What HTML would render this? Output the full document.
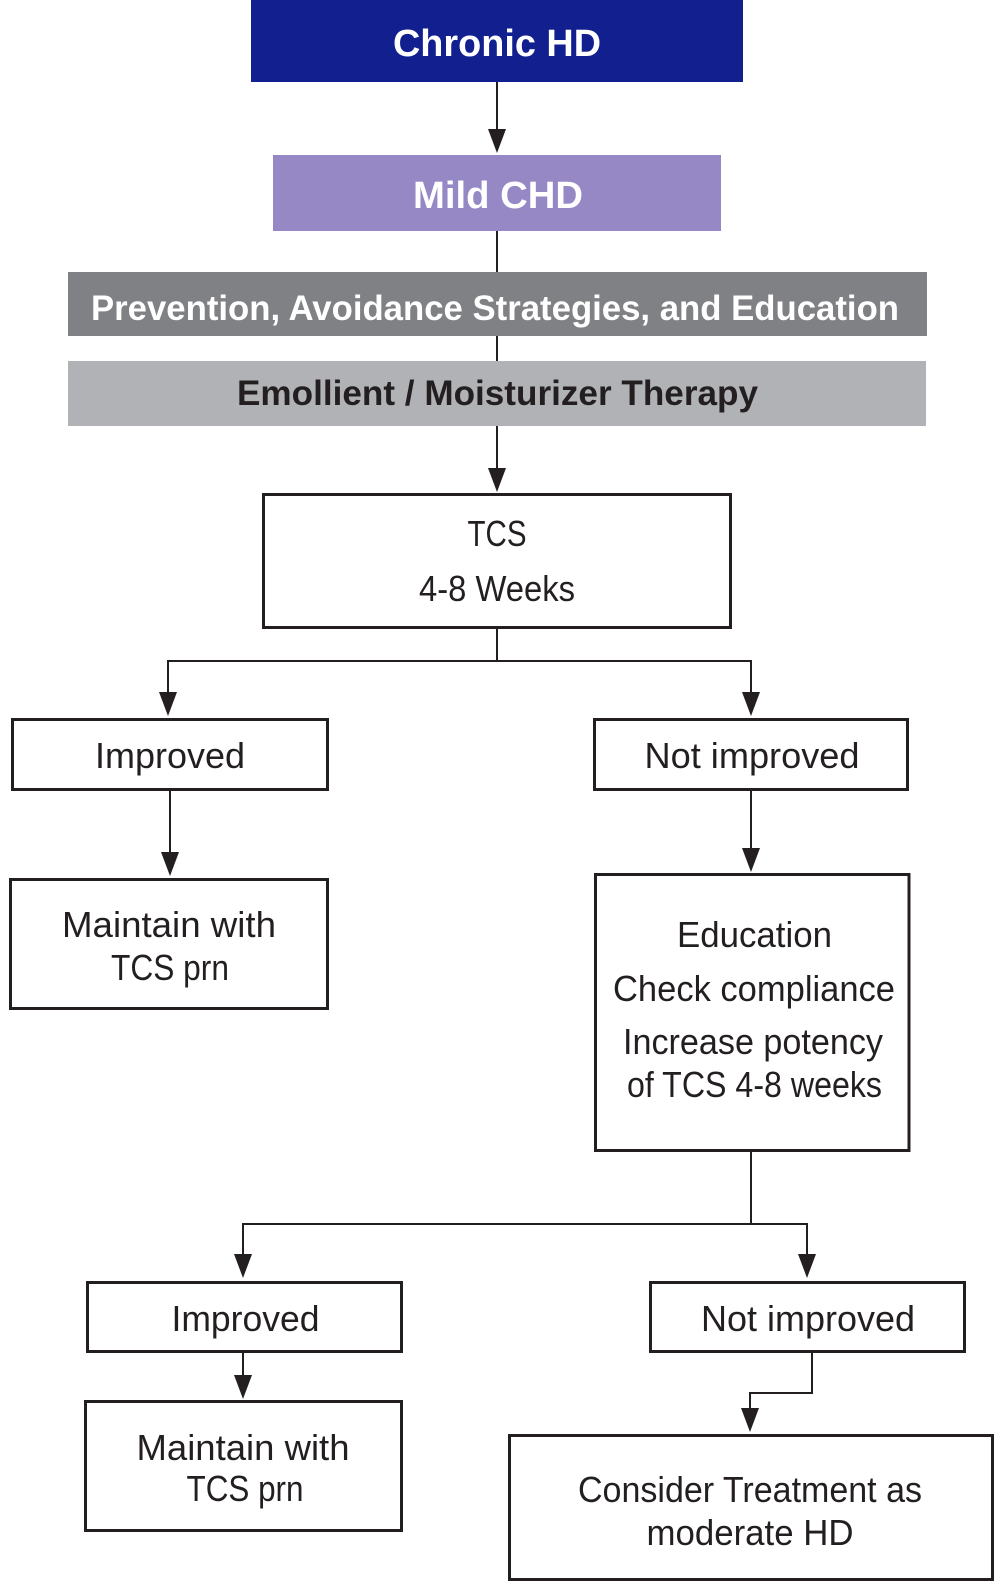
<!DOCTYPE html>
<html>
<head>
<meta charset="utf-8">
<style>
  html, body { margin:0; padding:0; background:#ffffff; }
  body { width:1004px; height:1591px; overflow:hidden; }
  svg { display:block; }
  .b { font-family:"Liberation Sans", sans-serif; font-weight:bold; }
  .r { font-family:"Liberation Sans", sans-serif; font-weight:normal; fill:#231f20; font-size:36px; }
  .box { fill:#ffffff; stroke:#231f20; stroke-width:3; }
  .ln { stroke:#231f20; stroke-width:2; fill:none; }
  .ah { fill:#231f20; }
</style>
</head>
<body>
<svg width="1004" height="1591" viewBox="0 0 1004 1591" xmlns="http://www.w3.org/2000/svg">
  <!-- Top colored bars -->
  <rect x="251" y="0" width="492" height="82" fill="#121f8f"/>
  <text class="b" x="497" y="56" font-size="38" fill="#ffffff" text-anchor="middle" textLength="208" lengthAdjust="spacingAndGlyphs">Chronic HD</text>

  <rect x="273" y="155" width="448" height="76" fill="#9688c5"/>
  <text class="b" x="498" y="208" font-size="38" fill="#ffffff" text-anchor="middle" textLength="170" lengthAdjust="spacingAndGlyphs">Mild CHD</text>

  <rect x="68" y="272" width="859" height="64" fill="#808185"/>
  <text class="b" x="91" y="320" font-size="35" fill="#ffffff" textLength="808" lengthAdjust="spacingAndGlyphs">Prevention, Avoidance Strategies, and Education</text>

  <rect x="68" y="361" width="858" height="65" fill="#b1b2b5"/>
  <text class="b" x="237" y="405" font-size="35" fill="#231f20" textLength="521" lengthAdjust="spacingAndGlyphs">Emollient / Moisturizer Therapy</text>

  <!-- Connectors top -->
  <line class="ln" x1="497" y1="82" x2="497" y2="132"/>
  <polygon class="ah" points="497,153 488,129 506,129"/>
  <line class="ln" x1="497" y1="231" x2="497" y2="272"/>
  <line class="ln" x1="497" y1="336" x2="497" y2="361"/>
  <line class="ln" x1="497" y1="426" x2="497" y2="470"/>
  <polygon class="ah" points="497,492 488,468 506,468"/>

  <!-- TCS box -->
  <rect class="box" x="263.5" y="494.5" width="467" height="133"/>
  <text class="r" x="497" y="546" text-anchor="middle" textLength="59" lengthAdjust="spacingAndGlyphs">TCS</text>
  <text class="r" x="497" y="601" text-anchor="middle" textLength="156" lengthAdjust="spacingAndGlyphs">4-8 Weeks</text>

  <!-- Split 1 -->
  <line class="ln" x1="497" y1="629" x2="497" y2="661"/>
  <line class="ln" x1="167" y1="661" x2="752" y2="661"/>
  <line class="ln" x1="168" y1="660" x2="168" y2="695"/>
  <polygon class="ah" points="168,716 159,692 177,692"/>
  <line class="ln" x1="751" y1="660" x2="751" y2="695"/>
  <polygon class="ah" points="751,716 742,692 760,692"/>

  <!-- Improved 1 -->
  <rect class="box" x="12.5" y="719.5" width="315" height="70"/>
  <text class="r" x="170" y="768" text-anchor="middle" textLength="150" lengthAdjust="spacingAndGlyphs">Improved</text>
  <line class="ln" x1="170" y1="791" x2="170" y2="855"/>
  <polygon class="ah" points="170,876 161,852 179,852"/>

  <!-- Maintain 1 -->
  <rect class="box" x="10.5" y="879.5" width="317" height="129"/>
  <text class="r" x="169" y="937" text-anchor="middle" textLength="214" lengthAdjust="spacingAndGlyphs">Maintain with</text>
  <text class="r" x="170" y="980" text-anchor="middle" textLength="118" lengthAdjust="spacingAndGlyphs">TCS prn</text>

  <!-- Not improved 1 -->
  <rect class="box" x="594.5" y="719.5" width="313" height="70"/>
  <text class="r" x="752" y="768" text-anchor="middle" textLength="215" lengthAdjust="spacingAndGlyphs">Not improved</text>
  <line class="ln" x1="751" y1="791" x2="751" y2="851"/>
  <polygon class="ah" points="751,872 742,848 760,848"/>

  <!-- Education box -->
  <rect class="box" x="595.5" y="874.5" width="313.5" height="276"/>
  <text class="r" x="754.5" y="947" text-anchor="middle" textLength="155" lengthAdjust="spacingAndGlyphs">Education</text>
  <text class="r" x="754" y="1001" text-anchor="middle" textLength="282" lengthAdjust="spacingAndGlyphs">Check compliance</text>
  <text class="r" x="753" y="1054" text-anchor="middle" textLength="260" lengthAdjust="spacingAndGlyphs">Increase potency</text>
  <text class="r" x="754.5" y="1097" text-anchor="middle" textLength="255" lengthAdjust="spacingAndGlyphs">of TCS 4-8 weeks</text>

  <!-- Split 2 -->
  <line class="ln" x1="751" y1="1152" x2="751" y2="1224"/>
  <line class="ln" x1="242" y1="1224" x2="808" y2="1224"/>
  <line class="ln" x1="243" y1="1223" x2="243" y2="1257"/>
  <polygon class="ah" points="243,1278 234,1254 252,1254"/>
  <line class="ln" x1="807" y1="1223" x2="807" y2="1257"/>
  <polygon class="ah" points="807,1278 798,1254 816,1254"/>

  <!-- Improved 2 -->
  <rect class="box" x="87.5" y="1282.5" width="314" height="69"/>
  <text class="r" x="245.5" y="1331" text-anchor="middle" textLength="148" lengthAdjust="spacingAndGlyphs">Improved</text>
  <line class="ln" x1="243" y1="1353" x2="243" y2="1378"/>
  <polygon class="ah" points="243,1399 234,1375 252,1375"/>

  <!-- Maintain 2 -->
  <rect class="box" x="85.5" y="1401.5" width="316" height="129"/>
  <text class="r" x="243" y="1460" text-anchor="middle" textLength="213" lengthAdjust="spacingAndGlyphs">Maintain with</text>
  <text class="r" x="245" y="1501" text-anchor="middle" textLength="117" lengthAdjust="spacingAndGlyphs">TCS prn</text>

  <!-- Not improved 2 -->
  <rect class="box" x="650.5" y="1282.5" width="314" height="69"/>
  <text class="r" x="808" y="1331" text-anchor="middle" textLength="214" lengthAdjust="spacingAndGlyphs">Not improved</text>
  <polyline class="ln" points="812,1353 812,1393 750,1393 750,1411"/>
  <polygon class="ah" points="750,1432 741,1408 759,1408"/>

  <!-- Consider box -->
  <rect class="box" x="509.5" y="1435.5" width="483" height="144"/>
  <text class="r" x="750" y="1502" text-anchor="middle" textLength="344" lengthAdjust="spacingAndGlyphs">Consider Treatment as</text>
  <text class="r" x="750" y="1545" text-anchor="middle" textLength="207" lengthAdjust="spacingAndGlyphs">moderate HD</text>
</svg>
</body>
</html>
